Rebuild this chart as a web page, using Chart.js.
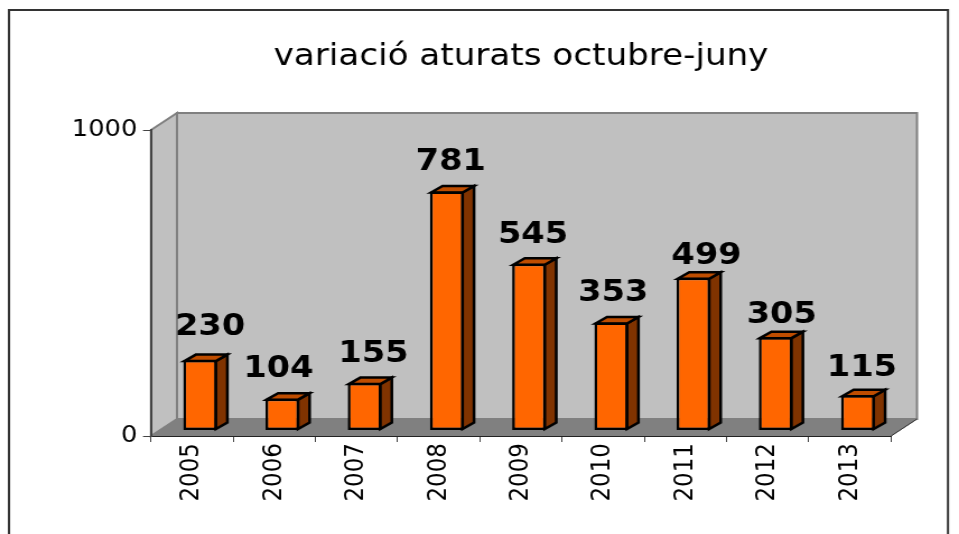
<!DOCTYPE html>
<html>
<head>
<meta charset="utf-8">
<title>variació aturats octubre-juny</title>
<script src="https://cdn.jsdelivr.net/npm/chart.js@4"></script>
<style>
    html, body { margin: 0; padding: 0; background: #fff; overflow: hidden; }
</style>
</head>
<body>
<canvas id="chart" width="856" height="534" style="display:block;width:959px;height:534px"></canvas>
<script>
const titleText = 'variació aturats octubre-juny';
const years = ['2005', '2006', '2007', '2008', '2009', '2010', '2011', '2012', '2013'];
const aturats = [230, 104, 155, 781, 545, 353, 499, 305, 115];
const yMax = 1000;

// the labels were moved by hand in the original
const labelNudgeX = [2, -12, 1, -4, -4, -6, 5, -2, -4];
const labelNudgeY = [-1, 3, 3, 3, 3, 3, 10, 10, 5];

// the original picture is stretched sideways, so the canvas is drawn narrower and scaled by css
const stretch = 959 / 856;
const sx = (x) => x / stretch;

const fontName = '"DejaVu Sans", Verdana, sans-serif';
const wallDepth = { x: sx(26), y: -17 };  // depth of the 3d box
const barShift = { x: sx(8), y: -5.5 }; // bars stand in the middle of the floor
const barDepth = { x: sx(11.5), y: -6.5 };

const poly = (ctx, points, fill, stroke, lineWidth) => {
    ctx.beginPath();
    points.forEach((p, i) => (i ? ctx.lineTo(p[0], p[1]) : ctx.moveTo(p[0], p[1])));
    ctx.closePath();
    ctx.fillStyle = fill;
    ctx.fill();
    ctx.strokeStyle = stroke;
    ctx.lineWidth = lineWidth;
    ctx.stroke();
};

const boxPlugin = {
    id: 'box3d',
    beforeDraw(chart) {
        const { ctx, chartArea: a } = chart;
        const dx = wallDepth.x, dy = wallDepth.y;
        ctx.save();
        // outer frame, its bottom edge is cut off in the original
        ctx.strokeStyle = '#333333';
        ctx.lineWidth = 2;
        ctx.strokeRect(sx(9), 10, sx(939), 560);
        // side wall, back wall, floor
        poly(ctx, [[a.left, a.top], [a.left + dx, a.top + dy], [a.left + dx, a.bottom + dy], [a.left, a.bottom]], '#C0C0C0', '#808080', 2);
        poly(ctx, [[a.left + dx, a.top + dy], [a.right + dx, a.top + dy], [a.right + dx, a.bottom + dy], [a.left + dx, a.bottom + dy]], '#C0C0C0', '#808080', 2);
        poly(ctx, [[a.left, a.bottom], [a.left + dx, a.bottom + dy], [a.right + dx, a.bottom + dy], [a.right, a.bottom]], '#808080', '#808080', 1);
        ctx.strokeStyle = '#333333';
        ctx.lineWidth = 1;
        ctx.beginPath();
        ctx.moveTo(a.right, a.bottom);
        ctx.lineTo(a.right + dx, a.bottom + dy);
        ctx.stroke();
        ctx.restore();
    },
    beforeDatasetsDraw(chart) {
        const { ctx } = chart;
        ctx.save();
        ctx.translate(barShift.x, barShift.y);
        chart.getDatasetMeta(0).data.forEach((bar) => {
            const left = bar.x - bar.width / 2 + 1;
            const right = bar.x + bar.width / 2 - 1;
            const top = bar.y + 1;
            const base = bar.base - 1;
            const dx = barDepth.x, dy = barDepth.y;
            poly(ctx, [[right, top], [right + dx, top + dy], [right + dx, base + dy], [right, base]], '#803300', '#000', 2.5);
            poly(ctx, [[left, top], [left + dx, top + dy], [right + dx, top + dy], [right, top]], '#BF4D00', '#000', 2.5);
        });
    },
    afterDatasetsDraw(chart) {
        const { ctx } = chart;
        ctx.restore();
        // value labels
        ctx.save();
        ctx.font = 'bold 30px ' + fontName;
        ctx.fillStyle = '#000';
        ctx.textAlign = 'center';
        ctx.textBaseline = 'middle';
        chart.getDatasetMeta(0).data.forEach((bar, i) => {
            ctx.fillText(aturats[i], bar.x + barShift.x + sx(8 + labelNudgeX[i]), bar.y + barShift.y - 32 + labelNudgeY[i]);
        });
        ctx.restore();
    }
};

new Chart(document.getElementById('chart'), {
    type: 'bar',
    data: {
        labels: years,
        datasets: [{
            data: aturats,
            backgroundColor: '#FF6600',
            borderColor: '#000',
            borderWidth: 2.5,
            borderSkipped: false,
            barPercentage: 0.41,
            categoryPercentage: 1,
            clip: false
        }]
    },
    options: {
        responsive: false,
        animation: false,
        events: [],
        layout: { autoPadding: false, padding: { left: 0, right: sx(959 - 891), top: 0, bottom: 0 } },
        plugins: {
            legend: { display: false },
            tooltip: { enabled: false },
            title: {
                display: true,
                text: titleText,
                fullSize: false,
                color: '#000',
                font: { family: fontName, size: 30.5, weight: 'normal' },
                padding: { top: 39, bottom: 54.4 }
            }
        },
        scales: {
            x: {
                afterFit(scale) { scale.height = 534 - 436; },
                border: { display: true, color: '#222', width: 1 },
                grid: { drawOnChartArea: false, drawTicks: true, tickLength: 6, color: '#444', offset: true },
                ticks: {
                    minRotation: 90,
                    maxRotation: 90,
                    color: '#000',
                    padding: 1,
                    font: { family: fontName, size: 23 }
                }
            },
            y: {
                min: 0,
                max: yMax,
                afterFit(scale) { scale.width = sx(151); },
                border: { display: true, color: '#444', width: 2 },
                grid: { drawOnChartArea: false, drawTicks: true, tickLength: sx(8), color: '#444' },
                ticks: {
                    stepSize: yMax,
                    color: '#000',
                    padding: 5,
                    font: { family: fontName, size: 23 },
                    callback: (value) => String(value)
                }
            }
        }
    },
    plugins: [boxPlugin]
});
</script>
</body>
</html>
